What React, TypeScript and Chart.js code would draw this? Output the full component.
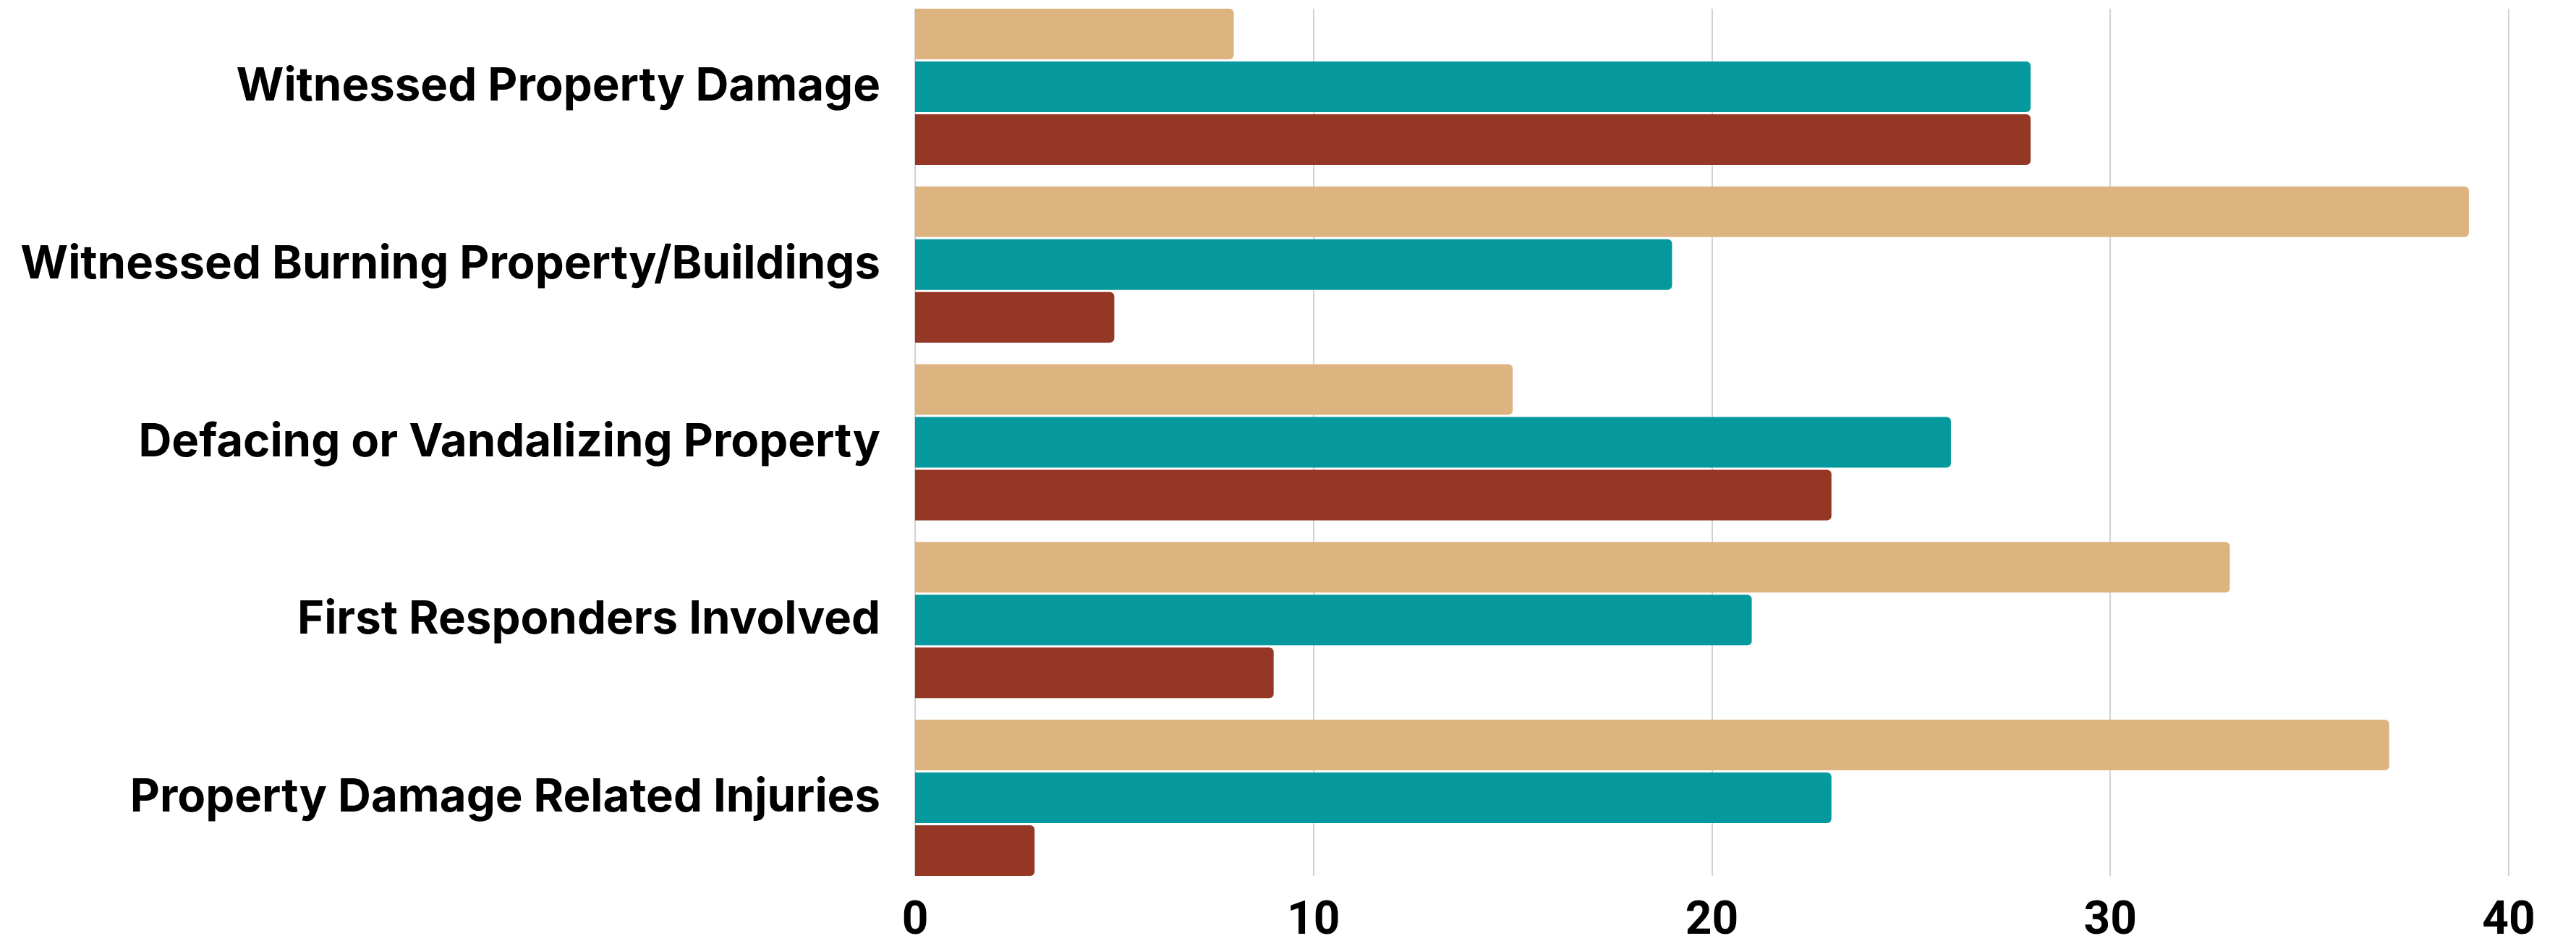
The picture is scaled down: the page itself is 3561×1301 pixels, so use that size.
import React, { useEffect, useRef } from "react";
import { Chart, registerables } from "chart.js";

Chart.register(...registerables);

const categories = [
  "Witnessed Property Damage",
  "Witnessed Burning Property/Buildings",
  "Defacing or Vandalizing Property",
  "First Responders Involved",
  "Property Damage Related Injuries",
];
const seriesTan = [8, 39, 15, 33, 37];
const seriesTeal = [28, 19, 26, 21, 23];
const seriesBrown = [28, 5, 23, 9, 3];
const seriesNames = ["Series A", "Series B", "Series C"];
const xTicks = [0, 10, 20, 30, 40];

const LABEL_FONT = "Inter, Roboto, sans-serif";
const TICK_FONT = "Roboto, Lato, sans-serif";

const gridPlugin = {
  id: "partialGrid",
  beforeDatasetsDraw(chart: any) {
    const x = chart.scales.x;
    const metaFirst = chart.getDatasetMeta(0);
    const metaLast = chart.getDatasetMeta(chart.data.datasets.length - 1);
    const first: any = metaFirst.data[0];
    const last: any = metaLast.data[metaLast.data.length - 1];
    if (!first || !last) return;
    const top = first.y - first.height / 2;
    const bottom = last.y + last.height / 2;
    const ctx = chart.ctx;
    ctx.save();
    ctx.strokeStyle = "#d2d2d2";
    ctx.lineWidth = 2;
    xTicks.forEach((v) => {
      const px = Math.round(x.getPixelForValue(v));
      ctx.beginPath();
      ctx.moveTo(px, top);
      ctx.lineTo(px, bottom);
      ctx.stroke();
    });
    ctx.restore();
  },
};

export default function App() {
  const ref = useRef<HTMLCanvasElement | null>(null);
  useEffect(() => {
    if (!ref.current) return;
    const common = {
      borderRadius: 6,
      borderSkipped: "start" as const,
      barPercentage: 0.959,
      categoryPercentage: 0.891,
    };
    const chart = new Chart(ref.current, {
      type: "bar",
      data: {
        labels: categories,
        datasets: [
          { label: seriesNames[0], data: seriesTan, backgroundColor: "#ddb480", ...common },
          { label: seriesNames[1], data: seriesTeal, backgroundColor: "#05999e", ...common },
          { label: seriesNames[2], data: seriesBrown, backgroundColor: "#943725", ...common },
        ],
      },
      options: {
        indexAxis: "y",
        responsive: false,
        animation: false,
        layout: { padding: { top: 0, right: 93, bottom: 0, left: 0 } },
        plugins: { legend: { display: false }, tooltip: { enabled: false } },
        scales: {
          x: {
            min: 0,
            max: 40,
            afterBuildTicks: (s: any) => {
              s.ticks = xTicks.map((v) => ({ value: v }));
            },
            border: { display: false },
            grid: { display: false, drawTicks: false },
            ticks: {
              color: "#000",
              padding: 11,
              font: { family: TICK_FONT, size: 64, weight: "bold", lineHeight: 1.2 },
            },
            afterFit: (s: any) => {
              s.height = 75;
              s.paddingLeft = 0;
              s.paddingRight = 0;
            },
          },
          y: {
            border: { display: false },
            grid: { display: false, drawTicks: false },
            ticks: {
              color: "#000",
              padding: 48,
              font: { family: LABEL_FONT, size: 63.5, weight: "bold", lineHeight: 1.2 },
            },
            afterFit: (s: any) => {
              s.width = 1265;
              s.paddingTop = 0;
              s.paddingBottom = 0;
            },
          },
        },
      },
      plugins: [gridPlugin],
    });
    return () => chart.destroy();
  }, []);
  return (
    <canvas
      ref={ref}
      width={3561}
      height={1304}
      style={{ position: "absolute", left: 0, top: -3, width: 3561, height: 1304 }}
    />
  );
}
